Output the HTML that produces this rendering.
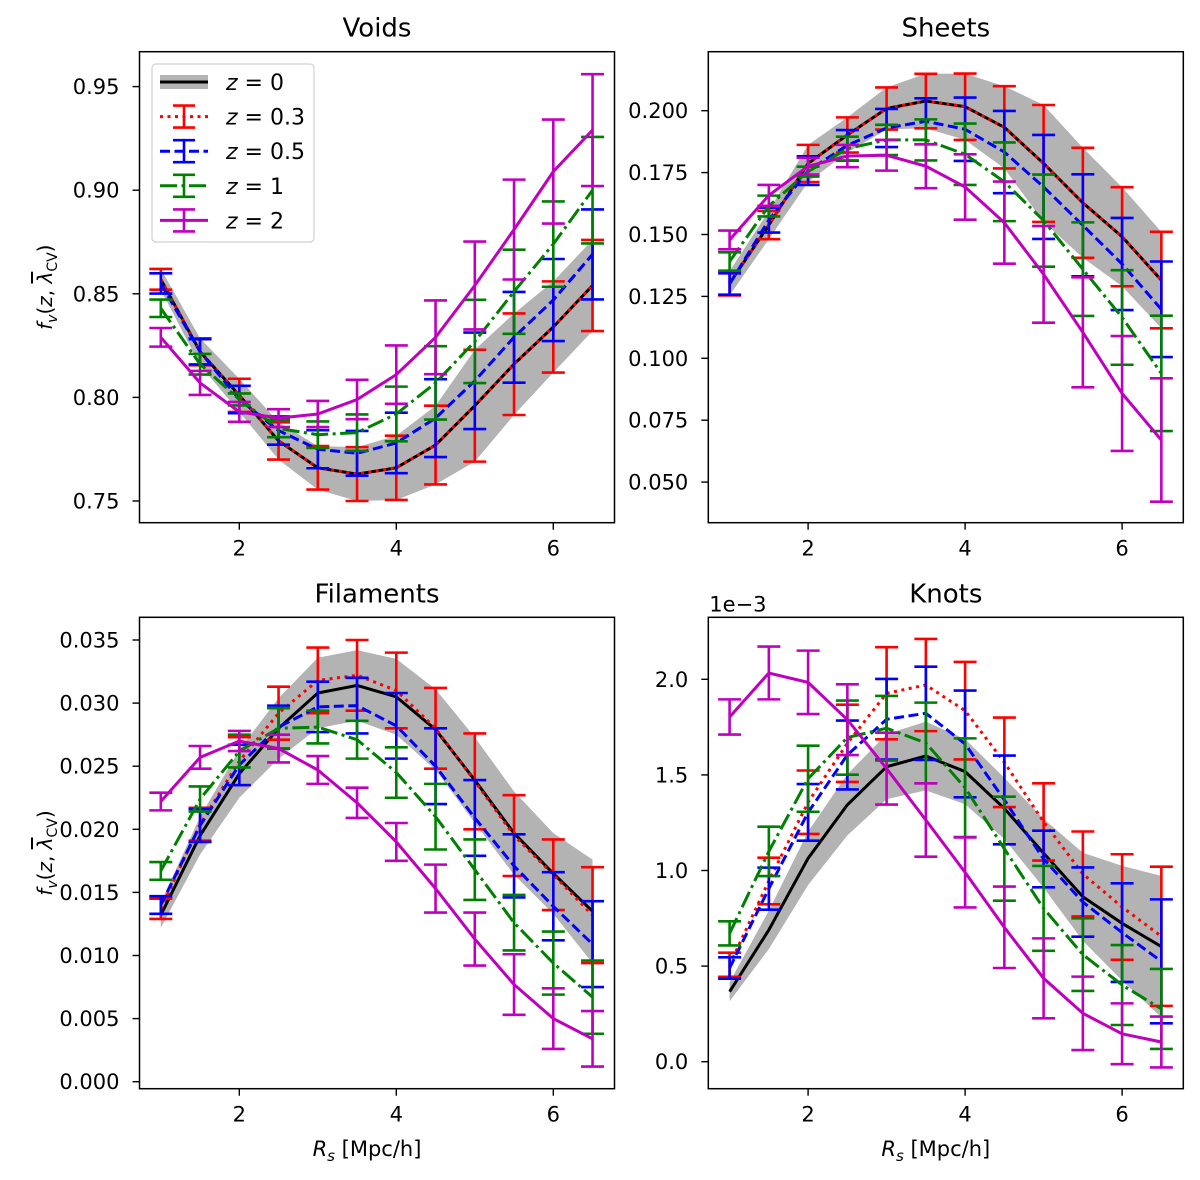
<!DOCTYPE html>
<html><head><meta charset="utf-8">
<style>
html,body{margin:0;padding:0;background:#fff;}
svg{display:block;font-family:"DejaVu Sans","Liberation Sans",sans-serif;}
</style></head>
<body>
<svg id="fig" width="1200" height="1180" viewBox="0 0 1200 1180" xmlns="http://www.w3.org/2000/svg"></svg>
<script>
// ---------- data ----------
const xs = [1, 1.5, 2, 2.5, 3, 3.5, 4, 4.5, 5, 5.5, 6, 6.5];
const xTicks = [2, 4, 6];
const seriesNames = ["z=0", "z=0.3", "z=0.5", "z=1", "z=2"];

// Voids
const voidsZ0 = [0.857,0.822,0.801,0.779,0.766,0.763,0.766,0.777,0.796,0.816,0.834,0.854];
const voidsBand = [0.005,0.0065,0.008,0.009,0.0105,0.013,0.0155,0.019,0.027,0.0245,0.022,0.022];
const voidsZ03 = [0.857,0.822,0.801,0.779,0.766,0.763,0.766,0.777,0.796,0.816,0.834,0.854];
const voidsZ03Err = [0.005,0.0065,0.008,0.009,0.0105,0.013,0.0155,0.019,0.027,0.0245,0.022,0.022];
const voidsZ05 = [0.855,0.822,0.799,0.784,0.775,0.773,0.778,0.790,0.808,0.829,0.847,0.869];
const voidsZ05Err = [0.0049,0.0061,0.0066,0.0068,0.0092,0.0108,0.0146,0.0188,0.0233,0.0219,0.0198,0.0217];
const voidsZ1 = [0.843,0.816,0.799,0.785,0.782,0.783,0.792,0.807,0.827,0.851,0.874,0.900];
const voidsZ1Err = [0.0042,0.005,0.0029,0.0042,0.0064,0.0088,0.0132,0.0177,0.0201,0.0203,0.0206,0.0257];
const voidsZ2 = [0.829,0.807,0.793,0.790,0.792,0.799,0.811,0.829,0.854,0.881,0.909,0.929];
const voidsZ2Err = [0.0045,0.0058,0.0048,0.0043,0.0063,0.0095,0.0141,0.0178,0.0212,0.0241,0.0251,0.027];
const voidsTicks = [0.75, 0.80, 0.85, 0.90, 0.95];
const voidsTickLabels = ["0.75","0.80","0.85","0.90","0.95"];

// Sheets
const sheetsZ0 = [0.1303,0.1538,0.1787,0.1902,0.2009,0.2039,0.2016,0.1933,0.1787,0.1628,0.1491,0.1316];
const sheetsBand = [0.0049,0.0057,0.0075,0.0071,0.0085,0.011,0.0134,0.0166,0.0236,0.0222,0.02,0.0195];
const sheetsZ03 = [0.1303,0.1538,0.1787,0.1902,0.2009,0.2039,0.2016,0.1933,0.1787,0.1628,0.1491,0.1316];
const sheetsZ03Err = [0.0049,0.0057,0.0075,0.0071,0.0085,0.011,0.0134,0.0166,0.0236,0.0222,0.02,0.0195];
const sheetsZ05 = [0.130,0.1558,0.1758,0.186,0.193,0.1957,0.1925,0.1833,0.1692,0.1537,0.1381,0.1198];
const sheetsZ05Err = [0.0043,0.005,0.0058,0.0062,0.0077,0.0093,0.0128,0.0166,0.021,0.0206,0.0186,0.0193];
const sheetsZ1 = [0.1391,0.1615,0.1754,0.1847,0.1882,0.1882,0.1824,0.1713,0.1556,0.136,0.1165,0.0939];
const sheetsZ1Err = [0.0037,0.0042,0.002,0.0048,0.0061,0.0083,0.0124,0.0159,0.0186,0.0189,0.0191,0.0233];
const sheetsZ2 = [0.1478,0.1658,0.1776,0.1817,0.182,0.1776,0.1692,0.1548,0.1339,0.1105,0.0858,0.067];
const sheetsZ2Err = [0.0038,0.0042,0.0034,0.0045,0.0062,0.0089,0.0132,0.0166,0.0195,0.0222,0.0232,0.0249];
const sheetsTicks = [0.050,0.075,0.100,0.125,0.150,0.175,0.200];
const sheetsTickLabels = ["0.050","0.075","0.100","0.125","0.150","0.175","0.200"];

// Filaments
const filZ0 = [0.0132,0.0195,0.0244,0.028,0.0308,0.0314,0.0305,0.0279,0.0239,0.0197,0.0165,0.0135];
const filBand = [0.001,0.0015,0.0019,0.0024,0.0028,0.0028,0.003,0.0032,0.0034,0.0033,0.0032,0.0041];
const filZ03 = [0.0137,0.0204,0.0254,0.0292,0.0318,0.0322,0.031,0.028,0.0238,0.0195,0.0164,0.0132];
const filZ03Err = [0.0008,0.0013,0.0019,0.0021,0.0026,0.0028,0.003,0.0032,0.0038,0.0032,0.0028,0.0038];
const filZ05 = [0.014,0.0203,0.0251,0.0281,0.0297,0.0298,0.0282,0.025,0.0209,0.0171,0.0139,0.0109];
const filZ05Err = [0.0007,0.0013,0.0016,0.0017,0.002,0.0022,0.0026,0.003,0.003,0.0025,0.0027,0.0034];
const filZ1 = [0.0167,0.0224,0.0262,0.028,0.0281,0.0271,0.0245,0.021,0.0168,0.0126,0.0094,0.0067];
const filZ1Err = [0.0007,0.001,0.0013,0.0016,0.0013,0.0015,0.002,0.0026,0.0024,0.0022,0.0025,0.0029];
const filZ2 = [0.0222,0.0257,0.027,0.0264,0.0247,0.0221,0.019,0.0153,0.0113,0.0077,0.005,0.0034];
const filZ2Err = [0.0007,0.0009,0.0008,0.0011,0.0011,0.0012,0.0015,0.0019,0.0021,0.0024,0.0024,0.0022];
const filTicks = [0,0.005,0.010,0.015,0.020,0.025,0.030,0.035];
const filTickLabels = ["0.000","0.005","0.010","0.015","0.020","0.025","0.030","0.035"];

// Knots (units of 1e-3)
const knotsZ0 = [0.366,0.689,1.064,1.343,1.543,1.599,1.517,1.325,1.09,0.863,0.724,0.602];
const knotsBand = [0.05,0.1,0.14,0.16,0.17,0.18,0.17,0.16,0.18,0.23,0.3,0.37];
const knotsZ03 = [0.507,0.945,1.357,1.665,1.927,1.97,1.836,1.566,1.254,0.982,0.809,0.656];
const knotsZ03Err = [0.063,0.122,0.166,0.202,0.241,0.241,0.255,0.234,0.202,0.222,0.276,0.364];
const knotsZ05 = [0.49,0.905,1.304,1.604,1.791,1.822,1.662,1.369,1.06,0.835,0.675,0.525];
const knotsZ05Err = [0.056,0.11,0.148,0.18,0.211,0.244,0.279,0.232,0.148,0.181,0.258,0.324];
const knotsZ1 = [0.671,1.1,1.48,1.695,1.744,1.667,1.433,1.114,0.802,0.56,0.401,0.276];
const knotsZ1Err = [0.063,0.129,0.173,0.194,0.169,0.211,0.258,0.272,0.222,0.19,0.209,0.209];
const knotsZ2 = [1.803,2.033,1.984,1.789,1.533,1.264,0.99,0.703,0.436,0.253,0.146,0.103];
const knotsZ2Err = [0.092,0.138,0.166,0.185,0.188,0.192,0.183,0.213,0.209,0.192,0.159,0.133];
const knotsTicks = [0,0.5,1.0,1.5,2.0];
const knotsTickLabels = ["0.0","0.5","1.0","1.5","2.0"];

// ---------- drawing ----------
const NS = "http://www.w3.org/2000/svg";
const svg = document.getElementById("fig");
function el(tag, parent, attrs) {
  const e = document.createElementNS(NS, tag);
  for (const k in attrs) e.setAttribute(k, attrs[k]);
  parent.appendChild(e);
  return e;
}
const colors = ["#000000", "#ff0000", "#0000ff", "#008000", "#bf00bf"];
const dashes = ["", "3 4.5", "10 4.5", "17 4.5 3 4.5", ""];
const LW = 3;
const EW = 2.6;

const panels = [
  {name:"voids", title:"Voids", left:139.5, top:51.7, bottom:522.7, y0:0.75, py0:501, scale:2072,
   ticks:voidsTicks, labels:voidsTickLabels, z0:voidsZ0, band:voidsBand,
   ser:[[voidsZ03,voidsZ03Err],[voidsZ05,voidsZ05Err],[voidsZ1,voidsZ1Err],[voidsZ2,voidsZ2Err]], ylabel:true, xlabel:false},
  {name:"sheets", title:"Sheets", left:708.3, top:51.7, bottom:522.7, y0:0.2, py0:110.7, scale:2476,
   ticks:sheetsTicks, labels:sheetsTickLabels, z0:sheetsZ0, band:sheetsBand,
   ser:[[sheetsZ03,sheetsZ03Err],[sheetsZ05,sheetsZ05Err],[sheetsZ1,sheetsZ1Err],[sheetsZ2,sheetsZ2Err]], ylabel:false, xlabel:false},
  {name:"filaments", title:"Filaments", left:139.5, top:617.3, bottom:1088.7, y0:0, py0:1081.7, scale:12620,
   ticks:filTicks, labels:filTickLabels, z0:filZ0, band:filBand,
   ser:[[filZ03,filZ03Err],[filZ05,filZ05Err],[filZ1,filZ1Err],[filZ2,filZ2Err]], ylabel:true, xlabel:true},
  {name:"knots", title:"Knots", left:708.3, top:617.3, bottom:1088.7, y0:0, py0:1061.7, scale:191.2,
   ticks:knotsTicks, labels:knotsTickLabels, z0:knotsZ0, band:knotsBand,
   ser:[[knotsZ03,knotsZ03Err],[knotsZ05,knotsZ05Err],[knotsZ1,knotsZ1Err],[knotsZ2,knotsZ2Err]], ylabel:false, xlabel:true, offset:"1e\u22123"}
];
const XU = 78.5, WIDTH = 475;

panels.forEach(p => {
  const g = el("g", svg, {});
  
  
  const X = v => p.left + 21.3 + (v - 1) * XU;
  const Y = v => p.py0 - (v - p.y0) * p.scale;
  const clipId = "clip-" + p.name;
  const cp = el("clipPath", g, {id: clipId});
  el("rect", cp, {x:p.left, y:p.top, width:WIDTH, height:p.bottom - p.top});
  const plot = el("g", g, {"clip-path": "url(#" + clipId + ")"});

  let d = "";
  xs.forEach((x, i) => { d += (i ? "L" : "M") + X(x).toFixed(1) + "," + Y(p.z0[i] + p.band[i]).toFixed(1); });
  for (let i = xs.length - 1; i >= 0; i--) d += "L" + X(xs[i]).toFixed(1) + "," + Y(p.z0[i] - p.band[i]).toFixed(1);
  const band = el("path", plot, {d: d + "Z", fill: "#b3b3b3", stroke: "none"});
  
  
  const lineD = arr => xs.map((x, i) => (i ? "L" : "M") + X(x).toFixed(1) + "," + Y(arr[i]).toFixed(1)).join("");
  const l0 = el("path", plot, {d: lineD(p.z0), fill: "none", stroke: colors[0], "stroke-width": LW});
  
  

  p.ser.forEach((s, k) => {
    const c = colors[k + 1];
    const sg = el("g", plot, {});
    
    
    const ln = el("path", sg, {d: lineD(s[0]), fill: "none", stroke: c, "stroke-width": LW, "stroke-dasharray": dashes[k + 1]});
    
    
    xs.forEach((x, i) => {
      const xp = X(x), hi = Y(s[0][i] + s[1][i]), lo = Y(s[0][i] - s[1][i]);
      const eb = el("path", sg, {d: "M" + xp + "," + hi + "L" + xp + "," + lo + "M" + (xp - 11.5) + "," + hi + "L" + (xp + 11.5) + "," + hi + "M" + (xp - 11.5) + "," + lo + "L" + (xp + 11.5) + "," + lo, stroke: c, "stroke-width": EW, fill: "none"});
      
      
    });
  });

  const fr = el("rect", g, {x:p.left, y:p.top, width:WIDTH, height:p.bottom - p.top, fill:"none", stroke:"#000", "stroke-width":1.5});
  
  
  const t = el("text", g, {x: p.left + WIDTH / 2, y: p.top - 15, "text-anchor": "middle", "font-size": 26});
  t.textContent = p.title;
  
  
  xTicks.forEach(v => {
    el("line", g, {x1:X(v), x2:X(v), y1:p.bottom, y2:p.bottom + 7, stroke:"#000", "stroke-width":1.4});
    const tl = el("text", g, {x:X(v), y:p.bottom + 33, "text-anchor":"middle", "font-size":21});
    tl.textContent = String(v);
    
    
  });
  p.ticks.forEach((v, i) => {
    el("line", g, {x1:p.left - 7, x2:p.left, y1:Y(v), y2:Y(v), stroke:"#000", "stroke-width":1.4});
    const tl = el("text", g, {x:p.left - 20, y:Y(v) + 7.5, "text-anchor":"end", "font-size":21});
    tl.textContent = p.labels[i];
    
    
  });
  if (p.offset) {
    const o = el("text", g, {x:p.left + 1, y:611.5, "font-size":21});
    o.textContent = p.offset;
    
    
  }
  if (p.xlabel) {
    const xl = el("text", g, {x:p.left + WIDTH / 2 - 10, y:1156, "text-anchor":"middle", "font-size":21});
    xl.innerHTML = '<tspan font-style="italic">R</tspan><tspan font-style="italic" font-size="15" dy="5">s</tspan><tspan dy="-5"> [Mpc/h]</tspan>';
    
    
  }
  if (p.ylabel) {
    const cy = (p.top + p.bottom) / 2;
    const yl = el("text", g, {x:0, y:0, "text-anchor":"middle", "font-size":20, transform:"translate(52," + cy + ") rotate(-90)"});
    yl.innerHTML = '<tspan font-style="italic">f</tspan><tspan font-style="italic" font-size="14" dy="5">v</tspan><tspan dy="-5">(</tspan><tspan font-style="italic">z</tspan><tspan>, </tspan><tspan font-style="italic" text-decoration="overline">λ</tspan><tspan font-size="14" dy="5">CV</tspan><tspan dy="-5">)</tspan>';
    
    
  }
});

const lg = el("g", svg, {});


el("rect", lg, {x:152, y:64, width:162, height:178, rx:4, fill:"#fff", "fill-opacity":0.8, stroke:"#d0d0d0", "stroke-width":1.2});
const legendLabels = ["0", "0.3", "0.5", "1", "2"];
legendLabels.forEach((lab, k) => {
  const y = 82 + k * 34.6;
  const e = el("g", lg, {});
  
  
  if (k === 0) {
    el("rect", e, {x:160, y:y - 7, width:48, height:14, fill:"#b3b3b3"});
    el("line", e, {x1:160, x2:208, y1:y, y2:y, stroke:"#000", "stroke-width":LW});
  } else {
    el("line", e, {x1:160, x2:208, y1:y, y2:y, stroke:colors[k], "stroke-width":LW, "stroke-dasharray":dashes[k]});
    el("path", e, {d:"M184," + (y - 11) + "L184," + (y + 11) + "M173," + (y - 11) + "L195," + (y - 11) + "M173," + (y + 11) + "L195," + (y + 11), stroke:colors[k], "stroke-width":EW, fill:"none"});
  }
  const t = el("text", e, {x:226, y:y + 8, "font-size":22});
  t.innerHTML = '<tspan font-style="italic">z</tspan> = ' + lab;
});
</script>
</body></html>
